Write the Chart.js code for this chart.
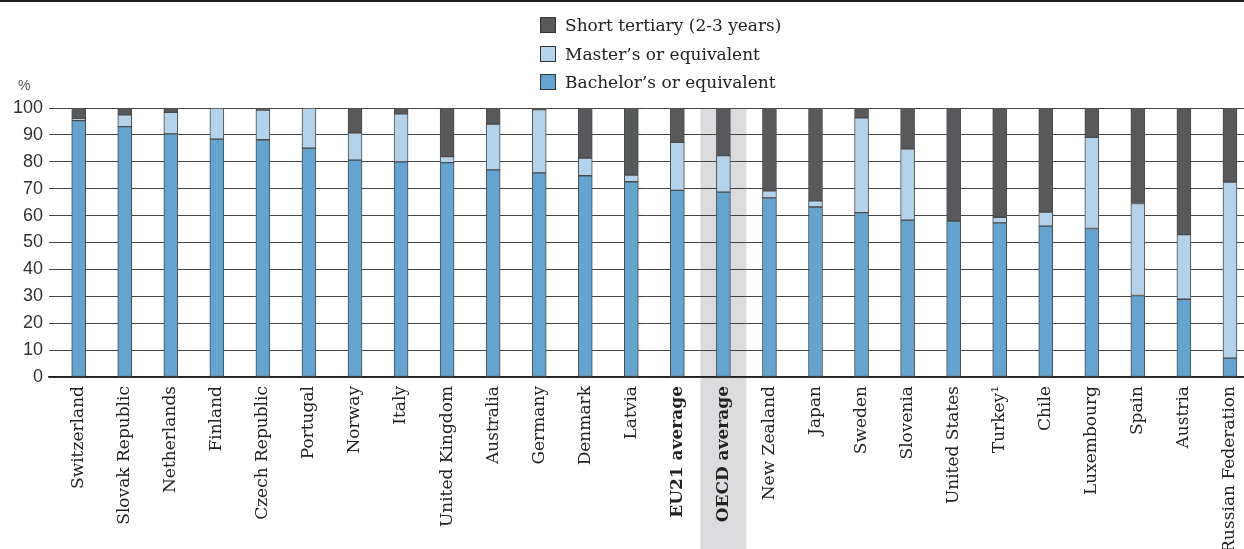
<!DOCTYPE html>
<html>
<head>
<meta charset="utf-8">
<script src="https://cdn.jsdelivr.net/npm/chart.js@4.4.1/dist/chart.umd.min.js"></script>
<style>
  html, body { margin: 0; padding: 0; background: #fff; overflow: hidden; }
  #wrap { position: relative; width: 1244px; height: 549px; }
  #rule { position: absolute; left: 0; top: 0; width: 1244px; height: 2px; background: #222; }
  #pct { position: absolute; left: 18px; top: 77px; font: 14px "Liberation Sans", sans-serif; color: #555; }
  #legend { position: absolute; left: 540px; top: 11px; font: 17px "DejaVu Serif", serif; color: #222; }
  .item { height: 28.5px; display: flex; align-items: center; }
  .box { width: 14px; height: 14px; border: 1px solid #333; margin-right: 9px; }
</style>
</head>
<body>
<div id="wrap">
  <canvas id="chart"></canvas>
  <div id="rule"></div>
  <div id="pct">%</div>
  <div id="legend"></div>
</div>
<script>
var countries = ["Switzerland", "Slovak Republic", "Netherlands", "Finland", "Czech Republic", "Portugal",
  "Norway", "Italy", "United Kingdom", "Australia", "Germany", "Denmark", "Latvia", "EU21 average",
  "OECD average", "New Zealand", "Japan", "Sweden", "Slovenia", "United States", "Turkey\u00b9",
  "Chile", "Luxembourg", "Spain", "Austria", "Russian Federation"];
var boldLabels = ["EU21 average", "OECD average"];
var shaded = "OECD average";

// shares of tertiary graduates, %
var bachelor = [95.3, 93.1, 90.4, 88.4, 88.2, 85.1, 80.6, 80.0, 79.7, 77.0, 75.9, 74.8, 72.6, 69.4,
  68.7, 66.6, 63.2, 61.1, 58.3, 58.0, 57.3, 56.1, 55.2, 30.3, 28.9, 7.0];
var master = [0.7, 4.4, 8.0, 11.6, 11.0, 14.9, 10.2, 17.8, 2.2, 17.0, 23.5, 6.6, 2.5, 17.8,
  13.6, 2.6, 2.3, 35.2, 26.5, 0, 2.1, 5.2, 33.9, 34.2, 24.0, 65.5];
var shortTertiary = [4.0, 2.5, 1.6, 0, 0.8, 0, 9.2, 2.2, 18.1, 6.0, 0.6, 18.6, 24.9, 12.8,
  17.7, 30.8, 34.5, 3.7, 15.2, 42.0, 40.6, 38.7, 10.9, 35.5, 47.1, 27.5];
var yTicks = [0, 10, 20, 30, 40, 50, 60, 70, 80, 90, 100];

var seriesNames = ["Bachelor\u2019s or equivalent", "Master\u2019s or equivalent", "Short tertiary (2-3 years)"];
var seriesColors = ["#65a4cf", "#b4d2ea", "#58595b"];
var seriesData = [bachelor, master, shortTertiary];

// legend, top entry first
var legend = document.getElementById("legend");
for (var s = seriesNames.length - 1; s >= 0; s--) {
  var row = document.createElement("div");
  row.className = "item";
  row.innerHTML = '<span class="box" style="background:' + seriesColors[s] + '"></span>' + seriesNames[s];
  legend.appendChild(row);
}

var datasets = seriesData.map(function(values, s) {
  return {
    label: seriesNames[s],
    data: values.map(function(v, i) { return { x: i, y: v }; }),
    backgroundColor: seriesColors[s],
    borderColor: "#4a4a4a",
    borderWidth: 1,
    borderSkipped: false,
    barThickness: 14
  };
});

var shadePlugin = {
  id: "shade",
  beforeDraw: function(chart) {
    var x = chart.scales.x;
    var i = countries.indexOf(shaded);
    var left = x.getPixelForValue(i - 0.5);
    var right = x.getPixelForValue(i + 0.5);
    var ctx = chart.ctx;
    ctx.save();
    ctx.fillStyle = "#dcdcde";
    ctx.fillRect(left, chart.chartArea.top, right - left, chart.height - chart.chartArea.top);
    ctx.restore();
  }
};

var ctx = document.getElementById("chart").getContext("2d");
var chart = new Chart(ctx, {
  type: "bar",
  data: { datasets: datasets },
  plugins: [shadePlugin],
  options: {
    responsive: true,
    maintainAspectRatio: false,
    animation: false,
    layout: { padding: { top: 108, right: 0, left: 0, bottom: 0 } },
    plugins: { legend: { display: false }, tooltip: { enabled: false } },
    scales: {
      x: {
        type: "linear",
        stacked: true,
        offset: false,
        min: -0.645,
        max: 25.305,
        afterBuildTicks: function(axis) {
          axis.ticks = countries.map(function(c, i) { return { value: i }; });
        },
        afterFit: function(axis) {
          axis.height = 172;
          axis.paddingLeft = 0;
          axis.paddingRight = 0;
        },
        grid: { display: false, drawTicks: false },
        border: { display: true, color: "#222", width: 1.5 },
        ticks: {
          autoSkip: false,
          minRotation: 90,
          maxRotation: 90,
          padding: 9,
          color: "#222",
          font: function(c) {
            var name = c.tick ? countries[c.tick.value] : "";
            return { family: "DejaVu Serif", size: 17, weight: boldLabels.indexOf(name) > -1 ? "bold" : "normal" };
          },
          callback: function(v) { return countries[v]; }
        }
      },
      y: {
        stacked: true,
        min: 0,
        max: 100,
        afterBuildTicks: function(axis) {
          axis.ticks = yTicks.map(function(v) { return { value: v }; });
        },
        afterFit: function(axis) { axis.width = 49; },
        grid: { color: "#444", lineWidth: 1, drawTicks: false },
        border: { display: false },
        ticks: {
          padding: 6,
          color: "#333",
          font: { family: "Liberation Sans", size: 18 }
        }
      }
    }
  }
});
</script>
</body>
</html>
